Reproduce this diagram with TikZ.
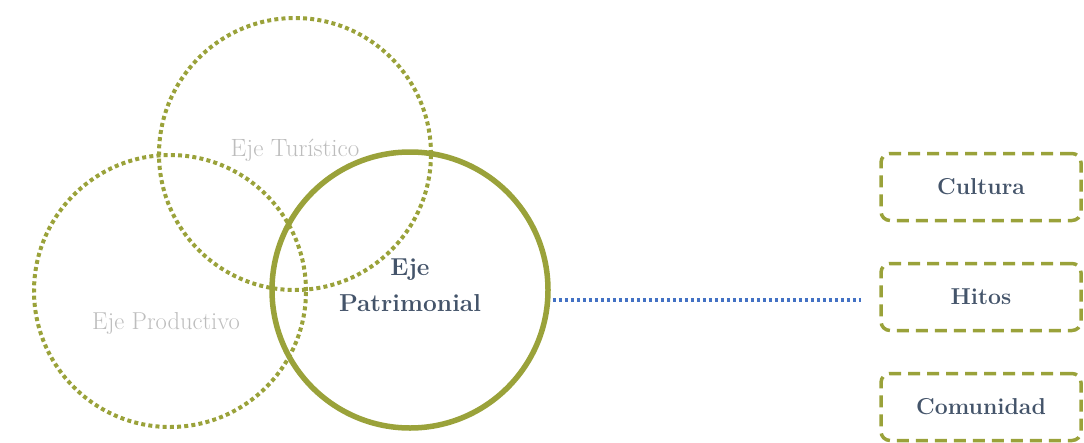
\documentclass[tikz,border=0pt]{standalone}
\usepackage{xcolor}
\usepackage{tikz}
\usetikzlibrary{calc}
\definecolor{olive}{HTML}{9AA23A}
\definecolor{slate}{HTML}{44546A}
\definecolor{lightgray}{HTML}{BDBDBD}
\definecolor{dotblue}{HTML}{4472C4}
\tikzset{
  ejedot/.style={circle,draw=olive,line width=4pt,dash pattern=on 4pt off 3.2pt,minimum size=272pt,inner sep=0pt},
  ejemain/.style={circle,draw=olive,line width=5.5pt,minimum size=276pt,inner sep=0pt},
  tema/.style={draw=olive,line width=3.5pt,dash pattern=on 12pt off 7pt,rounded corners=9pt,minimum width=200pt,minimum height=67pt,text=slate,font=\fontsize{23}{26}\selectfont\bfseries}
}
\begin{document}
\begin{tikzpicture}[x=1pt,y=-1pt]
      \useasboundingbox (0,0) rectangle (1084,442);
      \node[ejedot] (turistico) at (295,154) {};
      \node[ejedot] (productivo) at (170,291) {};
      \node[ejemain] (patrimonial) at (410,290) {};
      \node[text=lightgray,font=\fontsize{25}{28}\selectfont] (tlabel) at (295,150) {Eje Turístico};
      \node[text=lightgray,font=\fontsize{24.5}{28}\selectfont] (plabel) at (166,323) {Eje Productivo};
      \node[text=slate,align=center,font=\fontsize{24.5}{36}\selectfont\bfseries] (mlabel) at (410,285) {Eje\\Patrimonial};
      \node[tema] (cultura) at (981,187) {Cultura};
      \node[tema] (hitos) at (981,297) {Hitos};
      \node[tema] (comunidad) at (981,407) {Comunidad};
      \draw[dotblue,line width=3.5pt,dash pattern=on 3.5pt off 2.5pt,shorten <=2pt,shorten >=18pt] ($(patrimonial.east|-hitos.west)+(0,3)$) -- ($(hitos.west)+(0,3)$);
    \end{tikzpicture}
\end{document}
